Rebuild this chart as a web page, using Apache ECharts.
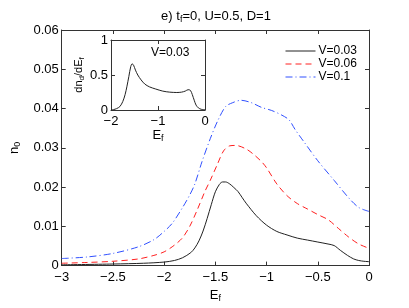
<!DOCTYPE html>
<html><head><meta charset="utf-8">
<script src="https://cdn.jsdelivr.net/npm/echarts@6/dist/echarts.min.js"></script>
<style>html,body{margin:0;padding:0;background:#fff}#c{width:409px;height:308px}</style>
</head><body><div id="c"></div>
<script>
var seriesNames = ['V=0.03', 'V=0.06', 'V=0.1'];
var xTicks = [-3, -2.5, -2, -1.5, -1, -0.5, 0];
var yTicks = [0, 0.01, 0.02, 0.03, 0.04, 0.05, 0.06];
var xV003 = [-3, -2.5, -2.2, -2.0, -1.9, -1.82, -1.74, -1.70, -1.66, -1.62, -1.58, -1.54, -1.50, -1.46, -1.43, -1.40, -1.36, -1.32, -1.28, -1.24, -1.2, -1.1, -1.0, -0.9, -0.8, -0.7, -0.6, -0.5, -0.4, -0.34, -0.28, -0.21, -0.15, -0.1, -0.05, 0];
var yV003 = [0.0002, 0.0004, 0.0006, 0.0009, 0.0013, 0.0020, 0.0033, 0.0045, 0.0063, 0.0088, 0.0120, 0.0155, 0.0188, 0.0207, 0.0213, 0.0213, 0.0208, 0.0199, 0.0189, 0.0174, 0.0159, 0.0127, 0.0103, 0.0087, 0.0078, 0.0070, 0.0065, 0.0060, 0.0055, 0.0051, 0.0039, 0.0026, 0.0017, 0.0013, 0.0011, 0.0010];
var xV006 = [-3, -2.75, -2.5, -2.25, -2.1, -2.0, -1.9, -1.82, -1.75, -1.68, -1.6, -1.55, -1.48, -1.42, -1.36, -1.3, -1.2, -1.13, -1.05, -1.0, -0.9, -0.8, -0.7, -0.6, -0.5, -0.4, -0.3, -0.2, -0.1, 0];
var yV006 = [0.0006, 0.0008, 0.0011, 0.0017, 0.0026, 0.0035, 0.0052, 0.0071, 0.0100, 0.0140, 0.0190, 0.0217, 0.0258, 0.0292, 0.0305, 0.0306, 0.0297, 0.0284, 0.0265, 0.0249, 0.0208, 0.0178, 0.0158, 0.0144, 0.0130, 0.0117, 0.0095, 0.0073, 0.0055, 0.0044];
var xV01 = [-3, -2.75, -2.5, -2.25, -2.1, -2.0, -1.92, -1.82, -1.75, -1.7, -1.63, -1.55, -1.48, -1.4, -1.33, -1.25, -1.15, -1.05, -0.95, -0.85, -0.78, -0.72, -0.64, -0.5, -0.34, -0.2, -0.1, 0];
var yV01 = [0.0018, 0.0022, 0.0031, 0.0048, 0.0066, 0.0087, 0.0108, 0.0148, 0.0180, 0.0208, 0.0265, 0.0323, 0.0367, 0.0405, 0.0415, 0.0421, 0.0415, 0.0403, 0.0395, 0.0383, 0.0371, 0.0346, 0.0317, 0.0267, 0.0217, 0.0173, 0.0148, 0.0138];
var insetX = [-2, -1.95, -1.88, -1.81, -1.75, -1.70, -1.66, -1.62, -1.58, -1.55, -1.52, -1.48, -1.43, -1.36, -1.28, -1.18, -1.05, -0.9, -0.75, -0.6, -0.5, -0.42, -0.36, -0.31, -0.27, -0.23, -0.19, -0.14, -0.08, 0];
var insetY = [0, 0.005, 0.02, 0.05, 0.12, 0.22, 0.34, 0.48, 0.62, 0.66, 0.64, 0.57, 0.50, 0.43, 0.37, 0.33, 0.30, 0.27, 0.255, 0.25, 0.255, 0.27, 0.29, 0.28, 0.22, 0.14, 0.07, 0.03, 0.01, 0.005];
var insetXTicks = [-2, -1, 0];
var insetYTicks = [0, 0.5, 1];

function pairs(xs, ys) { return xs.map(function (x, i) { return [x, ys[i]]; }); }
var FONT = 'Liberation Sans';
var axisColor = '#333';
var sub = { fontSize: 9, fontFamily: FONT, color: '#000', verticalAlign: 'bottom', padding: [7, 0, 0, 0] };
function fmt(v) { return String(+v.toFixed(4)).replace('-', '\u2212'); }

function axisX(grid, pos, min, max, interval, showLabel, extra) {
  var a = {
    type: 'value', gridIndex: grid, position: pos, min: min, max: max, interval: interval,
    axisLine: { show: true, onZero: false, lineStyle: { color: axisColor, width: 1 } },
    axisTick: { show: true, inside: true, length: 4, lineStyle: { color: axisColor } },
    axisLabel: { show: showLabel, formatter: fmt, fontSize: 13, fontFamily: FONT, color: '#000', margin: 5 },
    splitLine: { show: false }
  };
  for (var k in extra) a[k] = extra[k];
  return a;
}

var chart = echarts.init(document.getElementById('c'), null, { renderer: 'canvas' });
chart.setOption({
  animation: false,
  backgroundColor: '#fff',
  title: [{
    text: 'e) t{s|f}=0, U=0.5, D=1', left: 211, textAlign: 'center', top: 3,
    textStyle: { fontSize: 13, fontFamily: FONT, color: '#000', fontWeight: 'normal', rich: { s: sub } }
  }, {
    text: 'V=0.03', left: 146, top: 42,
    textStyle: { fontSize: 12, fontFamily: FONT, color: '#000', fontWeight: 'normal' }
  }],
  legend: {
    data: seriesNames, orient: 'vertical', left: 280, top: 40, itemWidth: 30, itemHeight: 8, itemGap: 1,
    itemStyle: { opacity: 0 },
    lineStyle: { width: 1 },
    textStyle: { fontSize: 12, fontFamily: FONT, color: '#000', padding: [0, 0, 0, -2] }
  },
  grid: [
    { left: 54, right: 40, top: 30, bottom: 38, containLabel: false },
    { left: 111, top: 40, width: 94, height: 70, show: true, backgroundColor: '#fff', borderWidth: 0, z: 5 }
  ],
  xAxis: [
    axisX(0, 'bottom', xTicks[0], xTicks[xTicks.length - 1], 0.5, true, {
      name: 'E{s|f}', nameLocation: 'middle', nameGap: 20,
      nameTextStyle: { fontSize: 13, fontFamily: FONT, color: '#000', rich: { s: sub } }
    }),
    axisX(0, 'top', -3, 0, 0.5, false, {}),
    axisX(1, 'bottom', insetXTicks[0], insetXTicks[2], 1, true, {
      name: 'E{s|f}', nameLocation: 'middle', nameGap: 17, z: 6,
      nameTextStyle: { fontSize: 13, fontFamily: FONT, color: '#000', rich: { s: sub } }
    }),
    axisX(1, 'top', -2, 0, 1, false, { z: 6 })
  ],
  yAxis: [
    axisX(0, 'left', yTicks[0], yTicks[yTicks.length - 1], 0.01, true, {
      name: 'n{s|0}', nameLocation: 'middle', nameGap: 37, nameRotate: 90,
      nameTextStyle: { fontSize: 13, fontFamily: FONT, color: '#000', rich: { s: sub } },
      axisLabel: { formatter: fmt, fontSize: 13, fontFamily: FONT, color: '#000', margin: 3 }
    }),
    axisX(0, 'right', 0, 0.06, 0.01, false, {}),
    axisX(1, 'left', insetYTicks[0], insetYTicks[2], 0.5, true, {
      name: 'dn{s|d}/dE{s|f}', nameLocation: 'middle', nameGap: 20, nameRotate: 90, z: 6,
      nameTextStyle: { fontSize: 11, fontFamily: FONT, color: '#000', rich: { s: { fontSize: 8, fontFamily: FONT, verticalAlign: 'bottom', padding: [6, 0, 0, 0] } } },
      axisLabel: { formatter: fmt, fontSize: 13, fontFamily: FONT, color: '#000', margin: 3 }
    }),
    axisX(1, 'right', 0, 1, 0.5, false, { z: 6 })
  ],
  series: [
    { name: seriesNames[0], type: 'line', xAxisIndex: 0, yAxisIndex: 0, data: pairs(xV003, yV003), showSymbol: false, symbol: 'none', smooth: 0.3,
      lineStyle: { color: '#222', width: 1, type: 'solid' }, itemStyle: { color: '#222' } },
    { name: seriesNames[1], type: 'line', xAxisIndex: 0, yAxisIndex: 0, data: pairs(xV006, yV006), showSymbol: false, symbol: 'none', smooth: 0.3,
      lineStyle: { color: '#ff2020', width: 1, type: [6, 4] }, itemStyle: { color: '#ff2020' } },
    { name: seriesNames[2], type: 'line', xAxisIndex: 0, yAxisIndex: 0, data: pairs(xV01, yV01), showSymbol: false, symbol: 'none', smooth: 0.3,
      lineStyle: { color: '#3050ff', width: 1, type: [7, 3, 1, 3] }, itemStyle: { color: '#3050ff' } },
    { name: 'inset', type: 'line', xAxisIndex: 2, yAxisIndex: 2, data: pairs(insetX, insetY), showSymbol: false, symbol: 'none', smooth: 0.3, z: 7,
      lineStyle: { color: '#222', width: 1 } }
  ]
});
</script></body></html>
